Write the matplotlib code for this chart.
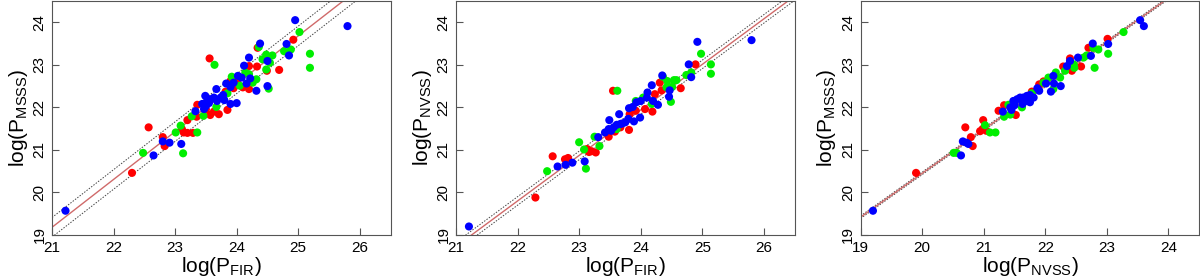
import numpy as np
import matplotlib
matplotlib.use("Agg")
import matplotlib.pyplot as plt

plt.rcParams['font.family'] = ['Liberation Sans', 'DejaVu Sans']
plt.rcParams['mathtext.default'] = 'regular'

# panel 1: log P_FIR vs log P_MSSS
p1_blue_x = [21.22, 22.65, 22.80, 22.91, 23.10, 23.33, 23.49, 23.44, 23.47, 23.52, 23.57, 23.63, 23.68,
             23.74, 23.67, 23.80, 23.78, 23.90, 24.00, 23.83, 23.90, 23.95, 24.02, 24.12, 24.16, 24.20,
             24.22, 24.32, 24.38, 24.50, 24.50, 24.81, 24.85, 24.95, 25.80, 23.50, 23.55, 24.08]
p1_blue_y = [19.57, 20.87, 21.20, 21.17, 21.14, 21.91, 22.27, 22.08, 21.96, 22.15, 22.19, 22.23, 22.15,
             22.23, 22.43, 22.17, 22.29, 22.08, 22.10, 22.56, 22.48, 22.58, 22.74, 22.98, 22.56, 23.17,
             22.68, 22.39, 23.50, 23.09, 22.50, 23.49, 23.22, 24.05, 23.91, 22.03, 22.10, 22.70]
p1_red_x = [22.30, 22.57, 22.80, 22.83, 23.11, 23.14, 23.20, 23.29, 23.20, 23.35, 23.36, 23.56, 23.57,
            23.63, 23.71, 23.85, 23.82, 23.95, 24.10, 24.20, 24.20, 24.34, 24.33, 24.49, 24.69, 24.92,
            24.01, 23.90, 23.50]
p1_red_y = [20.46, 21.53, 21.30, 21.09, 21.49, 21.41, 21.40, 21.40, 21.70, 21.78, 22.06, 23.15, 21.82,
            21.90, 21.84, 21.94, 22.37, 22.45, 22.47, 22.43, 22.97, 23.40, 22.96, 22.86, 22.88, 23.59,
            22.65, 22.62, 21.95]
p1_green_x = [22.48, 23.01, 23.09, 23.13, 23.36, 23.27, 23.46, 23.64, 23.67, 23.85, 23.92, 24.05, 24.14,
              24.20, 24.26, 24.32, 24.36, 24.42, 24.48, 24.48, 24.52, 24.54, 24.58, 24.77, 24.88, 25.02,
              25.19, 25.19]
p1_green_y = [20.93, 21.41, 21.57, 20.92, 21.41, 21.79, 21.80, 23.00, 22.01, 22.33, 22.72, 22.51, 22.82,
              22.78, 22.58, 22.66, 23.42, 23.13, 23.24, 22.89, 22.44, 23.05, 23.22, 23.32, 23.36, 23.77,
              23.26, 22.93]

# panel 2: log P_FIR vs log P_NVSS
p2_blue_x = [21.21, 22.65, 22.78, 22.89, 23.09, 23.31, 23.42, 23.48, 23.49, 23.56, 23.61, 23.67, 23.65,
             23.75, 23.80, 23.81, 23.87, 23.89, 23.99, 23.93, 24.00, 24.10, 24.11, 24.18, 24.20, 24.28,
             24.35, 24.47, 24.46, 24.78, 24.82, 24.92, 25.80, 23.52, 23.70]
p2_blue_y = [19.20, 20.61, 20.65, 20.70, 20.73, 21.30, 21.41, 21.49, 21.70, 21.53, 21.59, 21.61, 21.84,
             21.65, 21.73, 21.98, 22.01, 21.67, 21.76, 22.12, 22.15, 22.23, 22.35, 22.52, 22.15, 22.06,
             22.75, 22.40, 22.25, 23.01, 22.71, 23.54, 23.58, 21.45, 21.62]
p2_red_x = [22.29, 22.57, 22.77, 22.82, 23.13, 23.16, 23.20, 23.27, 23.55, 23.48, 23.58, 23.67, 23.81,
            23.82, 23.92, 24.07, 24.19, 24.23, 24.31, 24.34, 24.65, 24.89]
p2_red_y = [19.88, 20.85, 20.78, 20.81, 21.02, 20.95, 20.97, 20.94, 22.39, 21.31, 21.43, 21.53, 21.47,
            21.84, 21.92, 21.96, 21.90, 22.31, 22.58, 22.40, 22.45, 23.01]
p2_green_x = [22.48, 23.00, 23.08, 23.11, 23.25, 23.33, 23.62, 23.61, 23.92, 24.04, 24.18, 24.36, 24.43,
              24.54, 24.42, 24.51, 24.49, 24.58, 24.74, 24.82, 24.98, 25.14, 25.14]
p2_green_y = [20.50, 21.18, 21.01, 20.56, 21.31, 21.09, 22.39, 21.49, 22.15, 22.23, 22.08, 22.72, 22.62,
              22.64, 22.47, 22.48, 22.13, 22.64, 22.76, 22.82, 23.26, 23.01, 22.79]

# panel 3: log P_NVSS vs log P_MSSS
p3_blue_x = [19.20, 20.63, 20.66, 20.72, 20.75, 21.31, 21.43, 21.45, 21.48, 21.54, 21.59, 21.64, 21.70,
             21.75, 21.81, 21.63, 21.75, 21.87, 21.90, 22.01, 22.09, 22.13, 22.14, 22.25, 22.35, 22.40,
             22.53, 22.74, 22.77, 23.02, 23.54, 23.60, 21.50, 21.68]
p3_blue_y = [19.57, 20.87, 21.20, 21.17, 21.14, 21.90, 22.00, 21.94, 22.15, 22.19, 22.23, 22.23, 22.27,
             22.12, 22.23, 22.08, 22.29, 22.45, 22.39, 22.56, 22.37, 22.74, 22.56, 22.50, 22.97, 23.09,
             23.17, 23.21, 23.50, 23.49, 24.05, 23.91, 22.05, 22.15]
p3_red_x = [19.90, 20.70, 20.79, 20.82, 20.94, 20.98, 20.99, 21.04, 21.24, 21.33, 21.52, 21.78, 21.90,
            21.97, 22.29, 22.40, 22.43, 22.58, 22.70, 23.01]
p3_red_y = [20.46, 21.53, 21.30, 21.09, 21.44, 21.49, 21.70, 21.45, 21.92, 22.05, 21.82, 22.37, 22.54,
            22.61, 22.96, 23.15, 22.86, 22.96, 23.40, 23.61]
p3_green_x = [20.51, 20.56, 21.02, 21.10, 21.19, 21.33, 21.43, 21.40, 21.62, 21.78, 21.97, 22.05, 22.13,
              22.17, 22.24, 22.32, 22.46, 22.47, 22.62, 22.67, 22.78, 22.86, 22.80, 23.02, 23.27]
p3_green_y = [20.93, 20.93, 21.58, 21.41, 21.41, 21.78, 21.83, 22.06, 22.00, 22.33, 22.58, 22.70, 22.43,
              22.82, 22.70, 22.86, 23.01, 22.93, 23.17, 23.22, 23.40, 23.36, 22.93, 23.26, 23.77]

# fits: (x0, y0, slope, dashed offset)
fits = [(21, 19.18, 1.125, 0.23), (21, 18.73, 1.07, 0.10), (19, 19.42, 1.03, 0.03)]

panels = [
    (p1_blue_x, p1_blue_y, p1_red_x, p1_red_y, p1_green_x, p1_green_y, 'FIR', 'MSSS', (21, 26.5), range(21, 27)),
    (p2_blue_x, p2_blue_y, p2_red_x, p2_red_y, p2_green_x, p2_green_y, 'FIR', 'NVSS', (21, 26.5), range(21, 27)),
    (p3_blue_x, p3_blue_y, p3_red_x, p3_red_y, p3_green_x, p3_green_y, 'NVSS', 'MSSS', (19, 24.5), range(19, 25)),
]
lefts = [0.0433, 0.380, 0.7172]

fig = plt.figure(figsize=(12, 2.78), dpi=100)
for i, (bx, by, rx, ry, gx, gy, xl, yl, xlim, xt) in enumerate(panels):
    ax = fig.add_axes([lefts[i], 0.1547, 0.2822, 0.8417])
    x0, y0, k, d = fits[i]
    xx = np.array(xlim)
    yy = y0 + k * (xx - x0)
    ax.plot(xx, yy + d, color='#444444', lw=0.7, ls=(0, (1.5, 1.5)), zorder=1)
    ax.plot(xx, yy - d, color='#444444', lw=0.7, ls=(0, (1.5, 1.5)), zorder=1)
    ax.plot(xx, yy, color='#d06a6a', lw=1.0, zorder=1)
    ax.scatter(rx, ry, s=34, color='#ff0000', edgecolors='none', zorder=2)
    ax.scatter(gx, gy, s=34, color='#00ee00', edgecolors='none', zorder=3)
    ax.scatter(bx, by, s=34, color='#0000ff', edgecolors='none', zorder=4)
    ax.set_xlim(*xlim)
    ax.set_ylim(19, 24.5)
    ax.set_xticks(list(xt))
    ax.set_yticks(range(19, 25))
    ax.tick_params(direction='in', length=5, color='#555555', labelsize=11, pad=4)
    for lab in ax.get_yticklabels():
        lab.set_rotation(90)
        lab.set_va('center')
    for sp in ax.spines.values():
        sp.set_color('#555555')
    ax.set_xlabel('log(P$_{%s}$)' % xl, fontsize=15, labelpad=0)
    ax.set_ylabel('log(P$_{%s}$)' % yl, fontsize=15, labelpad=2)

fig.savefig('out.png', dpi=100)
